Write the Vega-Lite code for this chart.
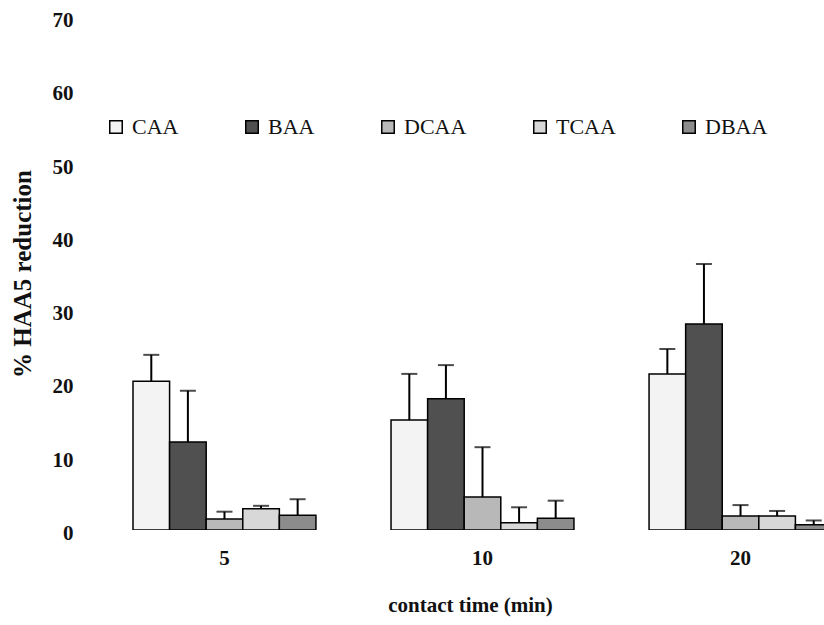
{
  "$schema": "https://vega.github.io/schema/vega-lite/v6.json",
  "autosize": {"type": "none"},
  "padding": {"left": 96, "top": 17, "right": 0, "bottom": 95},
  "width": 728,
  "height": 513,
  "background": "white",
  "config": {"view": {"stroke": null}, "font": "Liberation Serif"},
  "data": {
    "values": [
      {"time": "5", "compound": "CAA", "value": 20.3, "upper": 23.9},
      {"time": "5", "compound": "BAA", "value": 12.0, "upper": 19.0},
      {"time": "5", "compound": "DCAA", "value": 1.5, "upper": 2.5},
      {"time": "5", "compound": "TCAA", "value": 2.9, "upper": 3.3},
      {"time": "5", "compound": "DBAA", "value": 2.0, "upper": 4.2},
      {"time": "10", "compound": "CAA", "value": 15.0, "upper": 21.3},
      {"time": "10", "compound": "BAA", "value": 17.9, "upper": 22.5},
      {"time": "10", "compound": "DCAA", "value": 4.5, "upper": 11.3},
      {"time": "10", "compound": "TCAA", "value": 1.0, "upper": 3.1},
      {"time": "10", "compound": "DBAA", "value": 1.6, "upper": 4.0},
      {"time": "20", "compound": "CAA", "value": 21.3, "upper": 24.7},
      {"time": "20", "compound": "BAA", "value": 28.1, "upper": 36.3},
      {"time": "20", "compound": "DCAA", "value": 1.9, "upper": 3.4},
      {"time": "20", "compound": "TCAA", "value": 1.9, "upper": 2.6},
      {"time": "20", "compound": "DBAA", "value": 0.7, "upper": 1.3}
    ]
  },
  "encoding": {
    "x": {
      "field": "time",
      "type": "nominal",
      "sort": ["5", "10", "20"],
      "scale": {"range": [0, 773], "paddingInner": 0.291, "paddingOuter": 0.1434},
      "axis": {
        "domain": false,
        "ticks": false,
        "grid": false,
        "labelAngle": 0,
        "labelFont": "Liberation Serif",
        "labelFontSize": 21,
        "labelFontWeight": "bold",
        "labelColor": "#111",
        "labelPadding": 17,
        "title": "contact time (min)",
        "titleFont": "Liberation Serif",
        "titleFontSize": 21,
        "titleFontWeight": "bold",
        "titleColor": "#111",
        "titlePadding": 26,
        "titleX": 374
      }
    },
    "xOffset": {
      "field": "compound",
      "type": "nominal",
      "sort": ["CAA", "BAA", "DCAA", "TCAA", "DBAA"],
      "scale": {"paddingInner": 0, "paddingOuter": 0}
    }
  },
  "layer": [
    {
      "mark": {"type": "bar", "stroke": "black", "strokeWidth": 1.5, "clip": true},
      "encoding": {
        "y": {
          "field": "value",
          "type": "quantitative",
          "scale": {"domain": [0, 70], "nice": false},
          "axis": {
            "values": [0, 10, 20, 30, 40, 50, 60, 70],
            "domain": false,
            "ticks": false,
            "grid": false,
            "labelFont": "Liberation Serif",
            "labelFontSize": 21,
            "labelFontWeight": "bold",
            "labelColor": "#111",
            "labelPadding": 23,
            "labelOffset": 3.5,
            "title": "% HAA5 reduction",
            "titleFont": "Liberation Serif",
            "titleFontSize": 25,
            "titleFontWeight": "bold",
            "titleColor": "#111",
            "titlePadding": 17
          }
        },
        "fill": {
          "field": "compound",
          "type": "nominal",
          "sort": ["CAA", "BAA", "DCAA", "TCAA", "DBAA"],
          "scale": {
            "domain": ["CAA", "BAA", "DCAA", "TCAA", "DBAA"],
            "range": ["#f3f3f3", "#505050", "#b8b8b8", "#d8d8d8", "#8c8c8c"]
          },
          "legend": {
            "orient": "none",
            "legendX": 9,
            "legendY": 99,
            "direction": "horizontal",
            "title": null,
            "columnPadding": 62,
            "symbolType": "square",
            "symbolSize": 156,
            "symbolStrokeColor": "black",
            "symbolStrokeWidth": 1.5,
            "labelFont": "Liberation Serif",
            "labelFontSize": 22,
            "labelColor": "#111",
            "labelOffset": 5
          }
        }
      }
    },
    {
      "mark": {"type": "rule", "strokeWidth": 2, "color": "black", "clip": true},
      "encoding": {
        "y": {"field": "value", "type": "quantitative"},
        "y2": {"field": "upper"}
      }
    },
    {
      "mark": {"type": "tick", "thickness": 2, "size": 16, "color": "black", "clip": true, "orient": "horizontal"},
      "encoding": {
        "y": {"field": "upper", "type": "quantitative"}
      }
    }
  ]
}
